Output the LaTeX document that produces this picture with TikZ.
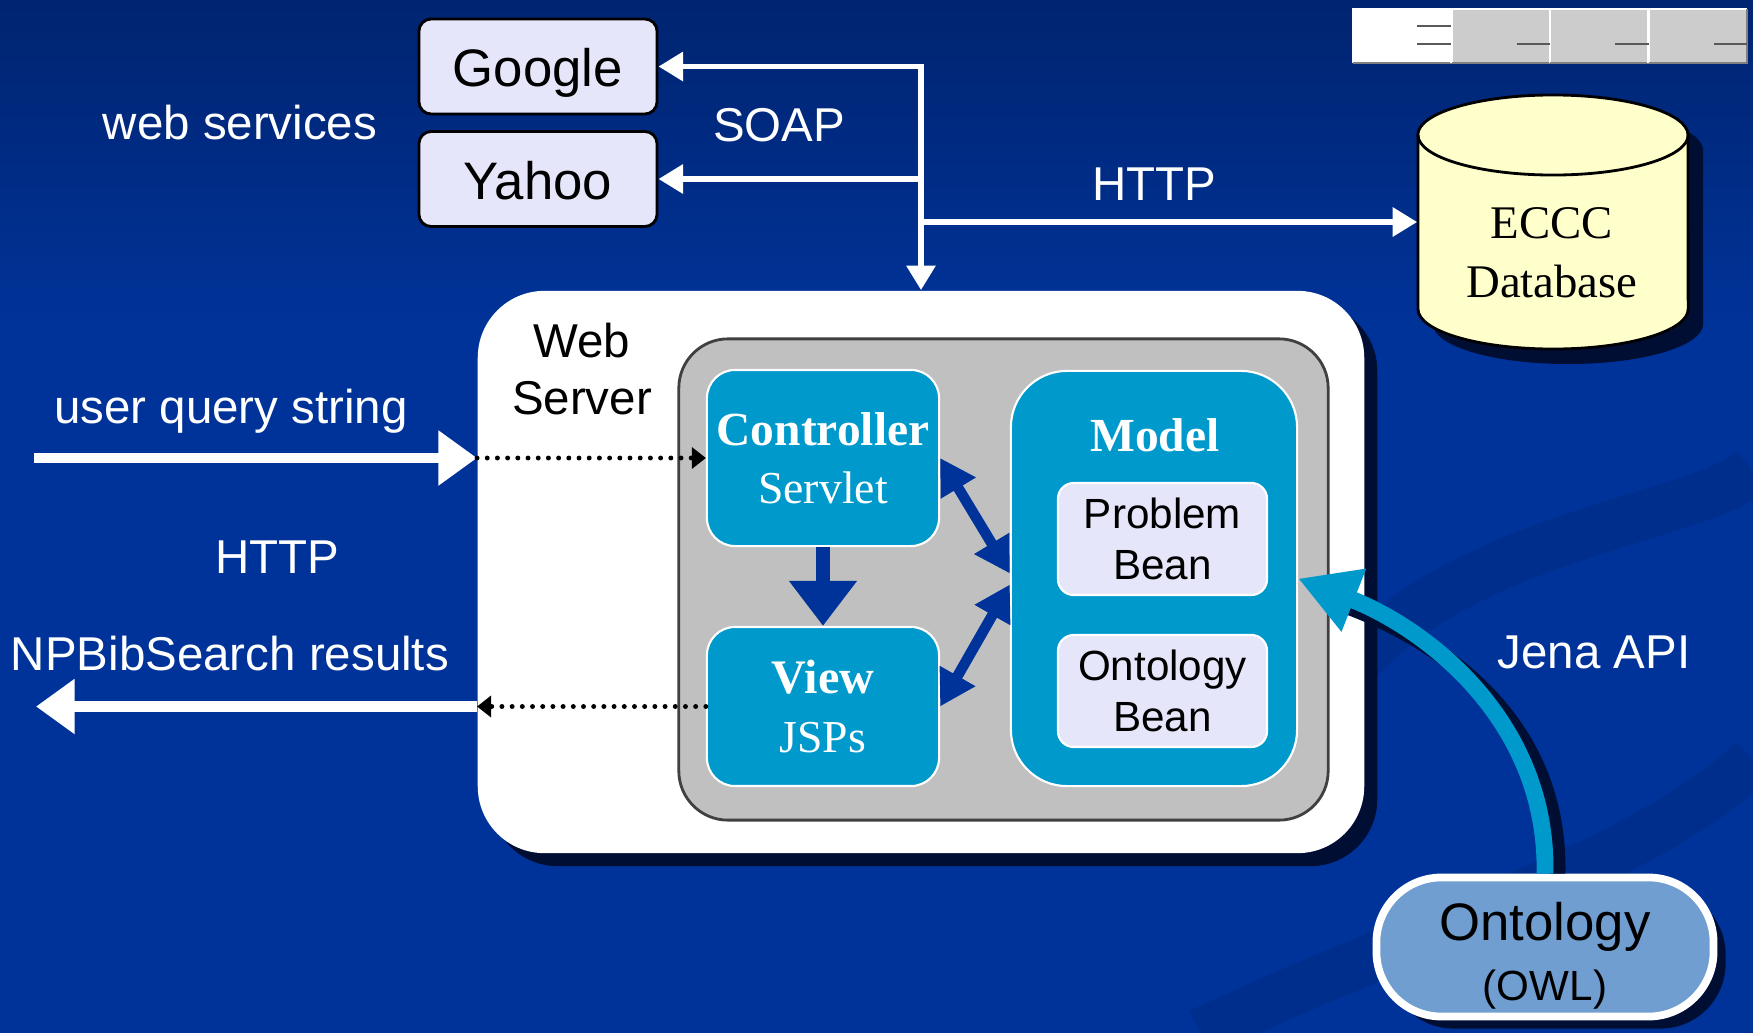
\documentclass[tikz,border=0pt]{standalone}
\usepackage{fontspec}
\setmainfont{Liberation Sans}
\newfontfamily\gfont{Liberation Serif}
\usepackage{tikz}
\usetikzlibrary{arrows.meta,positioning,shadows}
\definecolor{bgblue}{RGB}{0,51,153}
\definecolor{bgtop}{RGB}{0,36,112}
\definecolor{swirlc}{RGB}{0,40,128}
\definecolor{shadowc}{RGB}{0,14,52}
\definecolor{lav}{RGB}{230,230,250}
\definecolor{mvcblue}{RGB}{0,153,204}
\definecolor{arrnavy}{RGB}{0,51,153}
\definecolor{dbyellow}{RGB}{255,255,204}
\definecolor{owlblue}{RGB}{112,158,208}
\definecolor{srvgray}{RGB}{192,192,192}
\definecolor{logogray}{RGB}{204,204,204}

\begin{document}
\begin{tikzpicture}[x=0.01cm, y=-0.01cm,
  wsbox/.style={rectangle, draw=black, thick, fill=lav, rounded corners=3.5pt,
              minimum width=2.38cm, minimum height=0.95cm, inner sep=0pt,
              text height=11.6pt, text depth=0pt,
              font=\fontsize{15}{18}\selectfont},
  lbl/.style={text=white, inner sep=0pt, align=center,
              font=\fontsize{13.5}{16}\selectfont},
  srvbox/.style={rectangle, fill=white, rounded corners=19pt,
              minimum width=8.86cm, minimum height=5.62cm, inner sep=0pt,
              drop shadow={shadow xshift=0.13cm, shadow yshift=-0.13cm,
                           fill=shadowc, opacity=1}},
  mvc/.style={rectangle, draw=white, line width=0.6pt, fill=mvcblue,
              rounded corners=8pt, minimum width=2.32cm, align=center,
              text=white, inner sep=0pt, font=\gfont\fontsize{13}{16.5}\selectfont},
  bean/.style={rectangle, draw=white, line width=0.6pt, fill=lav,
              rounded corners=4.5pt, minimum width=2.09cm, minimum height=1.12cm,
              align=center, inner sep=0pt, font=\fontsize{12}{14.5}\selectfont},
  warr/.style={-{Triangle[length=7pt, width=8pt]}, white, line width=1.7pt,
              line cap=rect},
  barr/.style={-{Triangle[length=11pt, width=15pt]}, white, line width=3pt},
  dots/.style={-{Triangle[length=4pt, width=6pt]}, black, line width=1.4pt,
              line cap=round, dash pattern=on 0pt off 2.9pt},
  fatarr/.style={-{Triangle[length=12.8pt, width=18.5pt]}, arrnavy, line width=3.7pt},
  darr/.style={{Triangle[length=10pt, width=11pt]}-{Triangle[length=10pt, width=11pt]},
              arrnavy, line width=3pt},
  jarr/.style={-{Triangle[length=17pt, width=18pt]}, mvcblue, line width=4.8pt}
]
\useasboundingbox (0,0) rectangle (1753,1033);
% ── background ─────────────
\fill[bgblue] (0,0) rectangle (1753,1033);
\shade[top color=bgtop, bottom color=bgblue] (0,0) rectangle (1753,330);
\draw[swirlc, line width=14pt, opacity=0.45] (1330,700) .. controls (1420,540) and (1700,520) .. (1753,470);
\draw[swirlc, line width=14pt, opacity=0.45] (1200,1033) .. controls (1420,930) and (1650,860) .. (1753,760);

% ── logo ─────────────
\foreach \i/\c in {0/white,1/logogray,2/logogray,3/logogray} {
  \fill[\c] (1353+98.5*\i,9) rectangle (1451.5+98.5*\i,63);
  \draw[white, line width=0.8pt] (1353+98.5*\i,63) -- (1353+98.5*\i,9) -- (1451.5+98.5*\i,9);
  \draw[gray, line width=0.8pt] (1451.5+98.5*\i,9) -- (1451.5+98.5*\i,63) -- (1353+98.5*\i,63);
}
\draw[gray!70!black, line width=0.8pt] (1417,26) -- (1451,26) (1417,44) -- (1451,44);
\foreach \i in {1,2,3}
  \draw[gray!70!black, line width=0.8pt] (1418+98.5*\i,44) -- (1451.5+98.5*\i,44);

% ── web services ─────────────
\node[wsbox] (google) at (538,66.5) {Google};
\node[wsbox] (yahoo) at (538,179) {Yahoo};
\node[lbl] (wslbl) at (240,123) {web services};
\node[lbl] (soap) at (779,125) {SOAP};
\node[lbl] (http1) at (1154,184) {HTTP};

% ── database ─────────────
\fill[shadowc] (1433,150) -- (1433,324) arc[start angle=180, end angle=360, x radius=1.35cm, y radius=0.4cm]
  -- (1703,150) arc[start angle=0, end angle=180, x radius=1.35cm, y radius=0.4cm] -- cycle;
\filldraw[fill=dbyellow, draw=black, thick] (1418,135) -- (1418,309)
  arc[start angle=180, end angle=360, x radius=1.35cm, y radius=0.4cm]
  -- (1688,135) arc[start angle=0, end angle=180, x radius=1.35cm, y radius=0.4cm] -- cycle;
\draw[thick] (1418,135) arc[start angle=180, end angle=360, x radius=1.35cm, y radius=0.4cm];
\node[minimum width=2.7cm, minimum height=2.54cm, inner sep=0pt] (db) at (1553,222) {};
\node[align=center, inner sep=0pt, font=\gfont\fontsize{13.3}{16.8}\selectfont] (dblbl) at (1552,253)
  {ECCC\\Database};

% ── web server ─────────────
\node[srvbox] (websrv) at (921,572) {};
\node[align=center, inner sep=0pt, font=\fontsize{13.5}{16}\selectfont] (srvlbl) at (582,369) {Web\\Server};
\node[rectangle, draw=black!75, line width=0.8pt, fill=srvgray, rounded corners=14pt,
      minimum width=6.49cm, minimum height=4.81cm] (mvcarea) at (1003.5,579.5) {};
\node[mvc, minimum height=1.76cm] (ctrl) at (823,458)
  {\textbf{\fontsize{13.5}{16.5}\selectfont Controller}\\Servlet};
\node[mvc, minimum height=1.59cm] (view) at (823,706.5)
  {\textbf{\fontsize{13.7}{16.5}\selectfont View}\\JSPs};
\node[mvc, rounded corners=16pt, minimum width=2.86cm, minimum height=4.15cm] (model) at (1154,578.5) {};
\node[inner sep=0pt, text=white, font=\gfont\bfseries\fontsize{13.5}{16}\selectfont] (modellbl) at (1155,435) {Model};
\node[bean] (pbean) at (1162.5,539) {Problem\\Bean};
\node[bean] (obean) at (1162.5,691) {Ontology\\Bean};
\draw[fatarr] (ctrl.south) -- (view.north);
\draw[darr] (ctrl.east) -- ([yshift=0.05cm]model.west);
\draw[darr] (view.east) -- ([yshift=-0.06cm]model.west);

% ── top connectors ─────────────
\draw[warr] (websrv.north |- google.east) -- (google.east);
\draw[warr] (websrv.north |- yahoo.east) -- (yahoo.east);
\draw[warr] (websrv.north |- google.east) -- (websrv.north);
\draw[warr] (websrv.north |- db.west) -- (db.west);

% ── client side ─────────────
\coordinate (qin) at (34,458);
\coordinate (qout) at (36,706.5);
\node[lbl] (uqs) at (231,411) {user query string};
\node[lbl] (http2) at (277,557) {HTTP};
\node[lbl] (npb) at (230,654) {NPBibSearch results};
\draw[barr] (qin) -- (websrv.west |- ctrl.west);
\draw[dots] (websrv.west |- ctrl.west) -- (ctrl.west);
\draw[dots] (view.west) -- (websrv.west |- view.west);
\draw[barr] (websrv.west |- view.west) -- (qout);

% ── ontology ─────────────
\node[rectangle, draw=white, line width=2.2pt, fill=owlblue, rounded corners=0.65cm,
      minimum width=3.37cm, minimum height=1.39cm, inner sep=0pt,
      drop shadow={shadow xshift=0.12cm, shadow yshift=-0.12cm, fill=shadowc, opacity=1}]
  (owl) at (1545,947) {};
\node[align=center, inner sep=0pt, font=\fontsize{15}{17.2}\selectfont] (owllbl) at (1545,956)
  {Ontology\\{\fontsize{12}{14}\selectfont (OWL)}};
\draw[shadowc, line width=4.8pt] ([xshift=0.12cm]owl.north) .. controls (1560,720) and (1440,640) .. (1345,605);
\draw[jarr] (owl.north) .. controls (1548,720) and (1425,628) .. (model.east);
\node[lbl] (jena) at (1594,652) {Jena API};
\end{tikzpicture}
\end{document}
